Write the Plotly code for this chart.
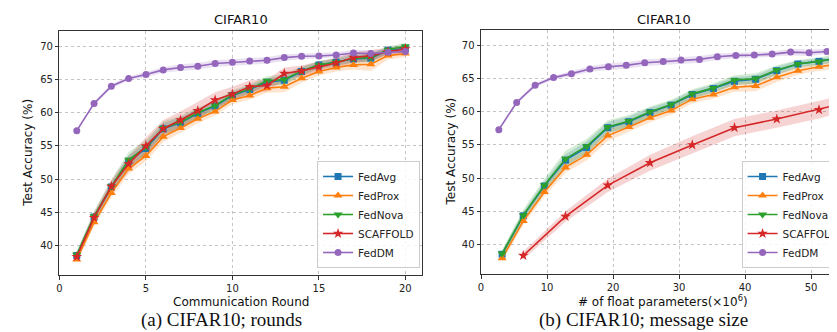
import plotly.graph_objects as go

# ---------------- data ----------------
rounds = list(range(1, 21))

fedavg = [38.5, 44.3, 48.8, 52.7, 54.6, 57.6, 58.5, 59.9, 61.0, 62.6, 63.5, 64.6, 64.9, 66.2, 67.2, 67.6, 68.1, 68.2, 69.4, 69.7]
fedprox = [37.9, 43.5, 47.9, 51.6, 53.5, 56.4, 57.7, 59.1, 60.2, 61.9, 62.6, 63.7, 63.9, 65.2, 66.2, 66.8, 67.2, 67.3, 68.6, 68.9]
fednova = [38.6, 44.4, 48.9, 52.9, 54.8, 57.7, 58.6, 60.0, 61.1, 62.7, 63.6, 64.8, 65.0, 66.3, 67.2, 67.6, 68.2, 68.3, 69.5, 70.0]
scaffold = [38.3, 44.2, 48.9, 52.3, 55.0, 57.6, 58.9, 60.3, 61.9, 62.8, 63.9, 64.1, 65.9, 66.3, 66.9, 67.5, 68.3, 68.6, 69.2, 69.6]
feddm = [57.3, 61.4, 64.0, 65.15, 65.75, 66.45, 66.8, 67.0, 67.4, 67.6, 67.8, 67.9, 68.3, 68.5, 68.55, 68.7, 69.0, 68.9, 69.1, 69.2]

fedavg_std = [0.5, 0.6, 0.7, 0.9, 0.9, 0.8, 0.8, 0.7, 0.6, 0.6, 0.6, 0.6, 0.6, 0.6, 0.5, 0.5, 0.5, 0.6, 0.5, 0.5]
fedprox_std = [0.5, 0.6, 0.7, 0.8, 0.8, 0.8, 0.7, 0.7, 0.6, 0.6, 0.6, 0.7, 0.8, 0.7, 0.6, 0.6, 0.7, 1.0, 0.6, 0.5]
fednova_std = [0.6, 0.8, 1.0, 1.2, 1.1, 1.0, 0.9, 0.8, 0.7, 0.7, 0.7, 0.7, 0.8, 0.7, 0.6, 0.6, 0.6, 0.7, 0.5, 0.5]
scaffold_std = [0.6, 0.8, 1.0, 1.2, 1.3, 1.3, 1.3, 1.3, 1.2, 1.1, 1.0, 0.9, 0.9, 0.8, 0.8, 0.8, 0.8, 0.8, 0.6, 0.6]
feddm_std = [0.2, 0.3, 0.3, 0.3, 0.4, 0.4, 0.5, 0.5, 0.5, 0.5, 0.5, 0.5, 0.5, 0.4, 0.4, 0.4, 0.5, 0.5, 0.4, 0.4]

# cumulative message size (x 10^6 floats) per round
size_fedavg = [3.2, 6.4, 9.6, 12.8, 16.0, 19.2, 22.4, 25.6, 28.8, 32.0, 35.2, 38.4, 41.6, 44.8, 48.0, 51.2, 54.4, 57.6, 60.8, 64.0]
size_fedprox = size_fedavg
size_fednova = size_fedavg
size_scaffold = [6.4, 12.8, 19.2, 25.6, 32.0, 38.4, 44.8, 51.2, 57.6, 64.0, 70.4, 76.8, 83.2, 89.6, 96.0, 102.4, 108.8, 115.2, 121.6, 128.0]
size_feddm = [2.7, 5.4, 8.2, 11.0, 13.7, 16.5, 19.3, 22.0, 24.8, 27.6, 30.3, 33.1, 35.8, 38.6, 41.4, 44.1, 46.9, 49.7, 52.4, 55.2]

names = ["FedAvg", "FedProx", "FedNova", "SCAFFOLD", "FedDM"]
values = [fedavg, fedprox, fednova, scaffold, feddm]
stds = [fedavg_std, fedprox_std, fednova_std, scaffold_std, feddm_std]
sizes = [size_fedavg, size_fedprox, size_fednova, size_scaffold, size_feddm]

colors = ["#1f77b4", "#ff7f0e", "#2ca02c", "#d62728", "#9467bd"]
fills = ["rgba(31,119,180,0.2)", "rgba(255,127,14,0.2)", "rgba(44,160,44,0.2)",
         "rgba(214,39,40,0.2)", "rgba(148,103,189,0.2)"]
symbols = ["square", "triangle-up", "triangle-down", "star", "circle"]
msizes = [7, 8, 8, 8, 7]

W, H = 837, 332
FONT = "DejaVu Sans"

fig = go.Figure()

panels = [
    dict(xs=[rounds] * 5, xa="x", ya="y", legend="legend"),
    dict(xs=sizes, xa="x2", ya="y2", legend="legend2"),
]

for p in panels:
    for i in range(5):
        x = p["xs"][i]
        y = values[i]
        s = stds[i]
        upper = [a + b for a, b in zip(y, s)]
        lower = [a - b for a, b in zip(y, s)]
        fig.add_trace(go.Scatter(x=x, y=upper, mode="lines", line=dict(width=0),
                                 showlegend=False, hoverinfo="skip",
                                 xaxis=p["xa"], yaxis=p["ya"]))
        fig.add_trace(go.Scatter(x=x, y=lower, mode="lines", line=dict(width=0),
                                 fill="tonexty", fillcolor=fills[i],
                                 showlegend=False, hoverinfo="skip",
                                 xaxis=p["xa"], yaxis=p["ya"]))
    for i in range(5):
        fig.add_trace(go.Scatter(x=p["xs"][i], y=values[i], mode="lines+markers",
                                 name=names[i],
                                 line=dict(color=colors[i], width=1.6),
                                 marker=dict(symbol=symbols[i], size=msizes[i], color=colors[i],
                                             line=dict(width=0)),
                                 legend=p["legend"],
                                 xaxis=p["xa"], yaxis=p["ya"]))

def px2x(px):
    return px / W

def py2y(py):
    return 1 - py / H

axis_common = dict(showgrid=True, gridcolor="#c4c4c4", griddash="dot", gridwidth=1,
                   zeroline=False, showline=True, linecolor="#333333", linewidth=1,
                   ticks="outside", ticklen=3.5, tickwidth=1, tickcolor="#333333",
                   tickfont=dict(family=FONT, size=10, color="#222222"))

yr = [35.52, 72.35]

legend_common = dict(yanchor="bottom", y=py2y(260),
                     bgcolor="rgba(255,255,255,0.85)", bordercolor="#cccccc", borderwidth=1,
                     font=dict(family=FONT, size=10.5, color="#222222"), tracegroupgap=0,
                     itemwidth=30, traceorder="normal")

fig.update_layout(
    width=W, height=H, autosize=False,
    margin=dict(l=0, r=0, t=0, b=0),
    paper_bgcolor="white", plot_bgcolor="white",
    xaxis=dict(domain=[px2x(49.3), px2x(418.3)], range=[0, 20.98], dtick=5, tick0=0,
               anchor="y", mirror=True, **axis_common),
    yaxis=dict(domain=[py2y(267.3), py2y(22.7)], range=yr, dtick=5, tick0=0,
               anchor="x", mirror=True, **axis_common),
    xaxis2=dict(domain=[px2x(478), 1.0], range=[0, 53.47], dtick=10, tick0=0,
                anchor="y2", mirror=True, **axis_common),
    yaxis2=dict(domain=[py2y(266.0), py2y(21.9)], range=yr, dtick=5, tick0=0,
                anchor="x2", mirror=False, **axis_common),
    legend=dict(x=px2x(416), xanchor="right", **legend_common),
    legend2=dict(x=px2x(743), xanchor="left", **legend_common),
)

annots = [
    dict(text="CIFAR10", x=px2x(234), y=py2y(11.5), size=13, family=FONT, angle=0),
    dict(text="CIFAR10", x=px2x(663.7), y=py2y(11.5), size=13, family=FONT, angle=0),
    dict(text="Communication Round", x=px2x(234), y=py2y(294), size=12, family=FONT, angle=0),
    dict(text="# of float parameters(×10<sup>6</sup>)", x=px2x(663), y=py2y(293), size=12, family=FONT, angle=0),
    dict(text="Test Accuracy (%)", x=px2x(17), y=py2y(145), size=12, family=FONT, angle=-90),
    dict(text="Test Accuracy (%)", x=px2x(447), y=py2y(144), size=12, family=FONT, angle=-90),
    dict(text="(a) CIFAR10; rounds", x=px2x(214.5), y=py2y(312), size=19, family="Liberation Serif", angle=0),
    dict(text="(b) CIFAR10; message size", x=px2x(643.5), y=py2y(312), size=19, family="Liberation Serif", angle=0),
]
for a in annots:
    fig.add_annotation(text=a["text"], x=a["x"], y=a["y"], xref="paper", yref="paper",
                       xanchor="center", yanchor="middle", showarrow=False, textangle=a["angle"],
                       font=dict(family=a["family"], size=a["size"], color="#111111"))

fig.write_html("out.html")
